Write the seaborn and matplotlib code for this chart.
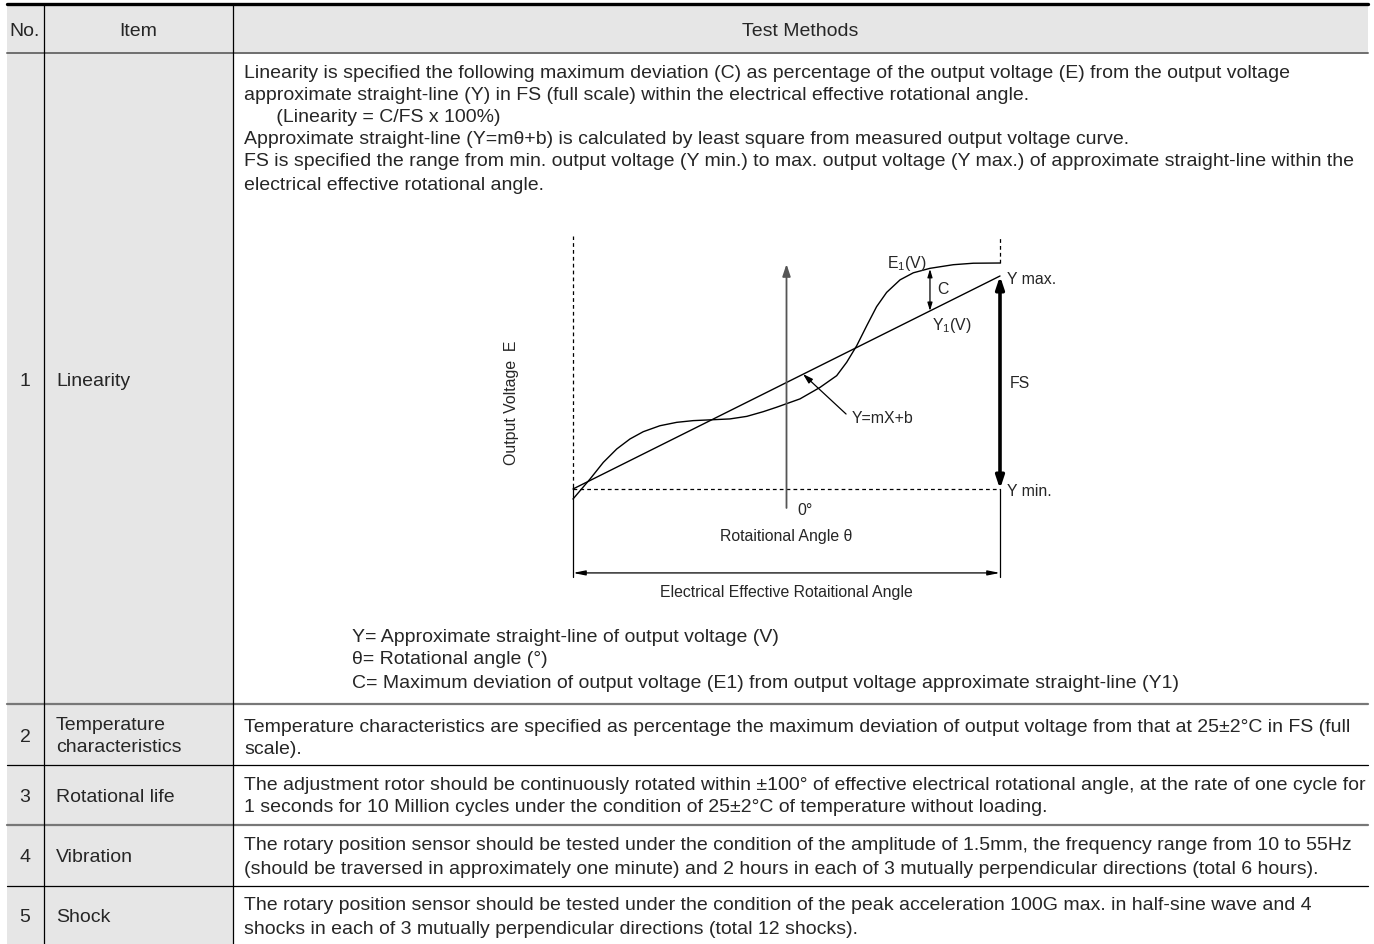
import os
os.environ['MPLCONFIGDIR'] = os.getcwd()

import matplotlib
matplotlib.use('Agg')

import matplotlib.pyplot as plt
from matplotlib.patches import Rectangle
import seaborn as sns

# table content
headers = ['No.', 'Item', 'Test Methods']
row_no = ['1', '2', '3', '4', '5']
row_item = [['Linearity'], ['Temperature', 'characteristics'], ['Rotational life'],
            ['Vibration'], ['Shock']]
linearity_text = [
    'Linearity is specified the following maximum deviation (C) as percentage of the output voltage (E) from the output voltage',
    'approximate straight-line (Y) in FS (full scale) within the electrical effective rotational angle.',
    '      (Linearity = C/FS x 100%)',
    'Approximate straight-line (Y=m\u03b8+b) is calculated by least square from measured output voltage curve.',
    'FS is specified the range from min. output voltage (Y min.) to max. output voltage (Y max.) of approximate straight-line within the',
    'electrical effective rotational angle.',
]
legend_text = [
    'Y= Approximate straight-line of output voltage (V)',
    '\u03b8= Rotational angle (\u00b0)',
    'C= Maximum deviation of output voltage (E1) from output voltage approximate straight-line (Y1)',
]
method_text = [
    ['Temperature characteristics are specified as percentage the maximum deviation of output voltage from that at 25\u00b12\u00b0C in FS (full',
     'scale).'],
    ['The adjustment rotor should be continuously rotated within \u00b1100\u00b0 of effective electrical rotational angle, at the rate of one cycle for',
     '1 seconds for 10 Million cycles under the condition of 25\u00b12\u00b0C of temperature without loading.'],
    ['The rotary position sensor should be tested under the condition of the amplitude of 1.5mm, the frequency range from 10 to 55Hz',
     '(should be traversed in approximately one minute) and 2 hours in each of 3 mutually perpendicular directions (total 6 hours).'],
    ['The rotary position sensor should be tested under the condition of the peak acceleration 100G max. in half-sine wave and 4',
     'shocks in each of 3 mutually perpendicular directions (total 12 shocks).'],
]

# diagram data: rotational angle (deg) vs output voltage (% of FS)
theta_e = [-100, -92, -85.8, -79.5, -73.3, -67.1, -59.3, -51.4, -43.7, -35, -26.5, -18.6,
           -10.9, -4.6, 6.3, 15.7, 23.5, 28.2, 32.9, 37.6, 42.2, 46.9, 53.2, 59.4, 67.2,
           78.1, 87.5, 100]
volt_e = [-4.7, 4.7, 12.5, 18.8, 23.5, 26.9, 29.7, 31.3, 32.1, 32.5, 32.9, 34.1,
          36.3, 38.4, 42.3, 47.7, 53.2, 59.5, 67.3, 76.7, 85.6, 92.3, 98.2, 101.5, 103.6,
          105.3, 106, 106.1]
theta_y = [-100, 100]
volt_y = [0, 100]

sns.set_theme(style='white')
plt.rcParams['font.family'] = ['Liberation Sans', 'DejaVu Sans']
plt.rcParams['mathtext.fontset'] = 'custom'
plt.rcParams['mathtext.rm'] = 'Liberation Sans'

W, H = 1374, 945
fig = plt.figure(figsize=(W / 100, H / 100), dpi=100)
ax = fig.add_axes([0, 0, 1, 1])
ax.set_xlim(0, W)
ax.set_ylim(H, 0)
ax.axis('off')

fs = 14.0
gray_bg = '#e6e6e6'
ax.add_patch(Rectangle((7, 5), 1361, 49, color=gray_bg, lw=0, zorder=0))
ax.add_patch(Rectangle((7, 54), 226, 891, color=gray_bg, lw=0, zorder=0))

ax.plot([7, 1368], [5, 5], color='black', lw=2.4)
ax.plot([7, 1368], [54, 54], color='#6e6e6e', lw=1.4)
for y, c, w in [(705, '#777777', 1.6), (766, 'black', 0.9), (826, '#777777', 1.6), (887, 'black', 0.9)]:
    ax.plot([7, 1368], [y, y], color=c, lw=w)
for x in [44, 233]:
    ax.plot([x, x], [5, H], color='black', lw=0.9)

ax.text(25, 32, headers[0], ha='center', va='center', fontsize=fs)
ax.text(138, 32, headers[1], ha='center', va='center', fontsize=fs)
ax.text(800, 32, headers[2], ha='center', va='center', fontsize=fs)

item_y = [[382], [725, 748], [797], [857], [917]]
no_y = [382, 737, 797, 857, 917]
for n, yn, names, ys in zip(row_no, no_y, row_item, item_y):
    ax.text(25, yn, n, ha='center', va='center', fontsize=fs)
    for name, yy in zip(names, ys):
        ax.text(56, yy, name, ha='left', va='center', fontsize=fs)

for line, yy in zip(linearity_text, [73, 95, 118, 140, 162, 185]):
    ax.text(244, yy, line, ha='left', va='center', fontsize=fs)
for line, yy in zip(legend_text, [637, 659, 683]):
    ax.text(352, yy, line, ha='left', va='center', fontsize=fs)
for lines, ys in zip(method_text, [[728, 750], [786, 808], [846, 869], [906, 929]]):
    for line, yy in zip(lines, ys):
        ax.text(244, yy, line, ha='left', va='center', fontsize=fs)

# diagram axes: theta -100..100 and voltage 0..100 map onto the FS box
x0, x1, y0, y1 = 573, 1000, 490, 277
axd = fig.add_axes([x0 / W, 1 - y0 / H, (x1 - x0) / W, (y0 - y1) / H])
axd.set_xlim(-100, 100)
axd.set_ylim(0, 100)
axd.axis('off')
axd.patch.set_alpha(0)

sns.lineplot(x=theta_e, y=volt_e, ax=axd, color='black', lw=1.0, sort=False,
             estimator=None, clip_on=False)
sns.lineplot(x=theta_y, y=volt_y, ax=axd, color='black', lw=1.0, sort=False,
             estimator=None, clip_on=False)

dfs = 11.4
kw = dict(clip_on=False, color='black')
axd.plot([-100, -100], [0.8, 118.8], ls=(0, (3, 2.5)), lw=0.9, **kw)
axd.plot([-100, -100], [0.8, -41.3], lw=0.9, **kw)
axd.plot([100, 100], [106.1, 118.8], ls=(0, (3, 2.5)), lw=0.9, **kw)
axd.plot([100, 100], [0, -41.3], lw=0.9, **kw)
axd.plot([-100, 100], [0, 0], ls=(0, (3, 2.5)), lw=0.9, **kw)

axd.annotate('', xy=(0, 105.6), xytext=(0, -8.9), annotation_clip=False,
             arrowprops=dict(arrowstyle='-|>,head_length=0.6,head_width=0.2', lw=1.3,
                             color='#555555', shrinkA=0, shrinkB=0))
axd.annotate('', xy=(100, 100), xytext=(100, 0), annotation_clip=False,
             arrowprops=dict(arrowstyle='<|-|>,head_length=0.6,head_width=0.2', lw=2.6,
                             color='black', shrinkA=0, shrinkB=0))
axd.annotate('', xy=(67.2, 103.3), xytext=(67.2, 83.6), annotation_clip=False,
             arrowprops=dict(arrowstyle='<|-|>,head_length=0.4,head_width=0.12', lw=0.9,
                             color='black', shrinkA=0, shrinkB=0))
axd.annotate('', xy=(-100, -39.4), xytext=(100, -39.4), annotation_clip=False,
             arrowprops=dict(arrowstyle='<|-|>,head_length=0.6,head_width=0.12', lw=0.9,
                             color='black', shrinkA=0, shrinkB=0))
axd.annotate('', xy=(7.7, 54), xytext=(27.9, 35.2), annotation_clip=False,
             arrowprops=dict(arrowstyle='-|>,head_length=0.5,head_width=0.15', lw=0.9,
                             color='black', shrinkA=0, shrinkB=0))

axd.text(47.0, 106.5, 'E$_1$(V)', ha='left', va='center', fontsize=dfs)
axd.text(70.5, 94, 'C', ha='left', va='center', fontsize=dfs)
axd.text(68, 77, 'Y$_1$(V)', ha='left', va='center', fontsize=dfs)
axd.text(103.5, 99, 'Y max.', ha='left', va='center', fontsize=dfs)
axd.text(103.5, -0.5, 'Y min.', ha='left', va='center', fontsize=dfs)
axd.text(104.5, 50, 'FS', ha='left', va='center', fontsize=dfs)
axd.text(30.5, 33.8, 'Y=mX+b', ha='left', va='center', fontsize=dfs)
axd.text(5, -9.6, '0\u00b0', ha='left', va='center', fontsize=dfs)
axd.text(0, -22, 'Rotaitional Angle \u03b8', ha='center', va='center', fontsize=dfs)
axd.text(0, -48, 'Electrical Effective Rotaitional Angle', ha='center', va='center', fontsize=dfs)
axd.text(-129, 41, 'Output Voltage  E', ha='center', va='center', rotation=90, fontsize=dfs)

fig.savefig('out.png', dpi=100)
